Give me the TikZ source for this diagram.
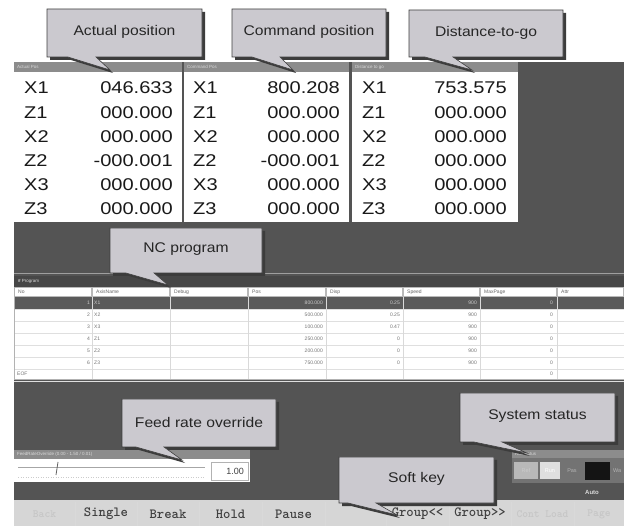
\documentclass[tikz,border=0pt]{standalone}
\usepackage{fontspec}
\setmainfont{Liberation Sans}
\newfontfamily\posf{Liberation Sans}[FakeStretch=1.18]
\newfontfamily\callf{Liberation Sans}[FakeStretch=1.12]
\definecolor{scr}{RGB}{84,84,84}
\definecolor{tbar}{RGB}{140,140,140}
\definecolor{callfill}{RGB}{203,201,207}
\definecolor{keybg}{RGB}{214,214,214}
\definecolor{hl}{RGB}{90,90,90}
\definecolor{shad}{RGB}{60,60,60}
\newcommand{\mycallout}[9]{%
  \begin{scope}[shift={(3,3)}]
    \fill[shad] (#2,#3) -- (#4,#3) -- (#4,#5) -- (#7,#5) -- (#8) -- (#6,#5) -- (#2,#5) -- cycle;
  \end{scope}
  \draw[callbox] (#2,#3) -- (#4,#3) -- (#4,#5) -- (#7,#5) -- (#8) -- (#6,#5) -- (#2,#5) -- cycle;
  \node[calltext] (#1) at ({(#2+#4)/2},{(#3+#5)/2-1}) {#9};
}
\tikzset{
  posl/.style={anchor=west, font=\posf\fontsize{17}{17}\selectfont, text=black!90, inner sep=0},
  posv/.style={anchor=east, font=\posf\fontsize{17}{17}\selectfont, text=black!90, inner sep=0},
  callbox/.style={fill=callfill, draw=black!75, line width=0.6pt},
  calltext/.style={font=\callf\fontsize{14}{14}\selectfont, text=black!85, inner sep=0},
  tinyw/.style={font=\fontsize{4.5}{5}\selectfont, text=white!85!black, inner sep=0, anchor=west},
  hdr/.style={font=\fontsize{5}{5}\selectfont, text=black!60, inner sep=0, anchor=west},
  cellr/.style={font=\fontsize{5}{5}\selectfont, inner sep=0, anchor=east},
  celll/.style={font=\fontsize{5}{5}\selectfont, inner sep=0, anchor=west},
  keytext/.style={font=\ttfamily\bfseries\fontsize{14}{14}\selectfont, inner sep=0},
  keyfade/.style={font=\ttfamily\bfseries\fontsize{11}{11}\selectfont, inner sep=0},
}
\begin{document}
\begin{tikzpicture}[x=1pt,y=-1pt]
\useasboundingbox (0,0) rectangle (624,526);
\fill[white] (0,0) rectangle (624,526);
% screen background
\fill[scr] (14,62) rectangle (624,500);
% position panels
\foreach \xa/\xb/\ttl in {14/182/Actual Pos, 184/349/Command Pos, 352/518/Distance to go}{
  \fill[tbar] (\xa,62) rectangle (\xb,72);
  \fill[white] (\xa,72) rectangle (\xb,222);
  \node[tinyw] at (\xa+3,67) {\ttl};
}
\foreach \l/\a/\c/\d [count=\i] in {X1/046.633/800.208/753.575, Z1/000.000/000.000/000.000, X2/000.000/000.000/000.000, Z2/-000.001/-000.001/000.000, X3/000.000/000.000/000.000, Z3/000.000/000.000/000.000}{
  \pgfmathsetmacro\yy{88+24.2*(\i-1)}
  \node[posl] (al\i) at (24,\yy) {\l};
  \node[posv] (av\i) at (173,\yy) {\a};
  \node[posl] (cl\i) at (193,\yy) {\l};
  \node[posv] (cv\i) at (340,\yy) {\c};
  \node[posl] (dl\i) at (362,\yy) {\l};
  \node[posv] (dv\i) at (507,\yy) {\d};
}
% program panel
\draw[gray!75, line width=0.8pt] (14,273) -- (624,273);
\fill[black!72] (14,276) rectangle (624,287);
\node[tinyw] (progt) at (18,281.5) {\textbf{\#} Program};
\fill[white] (14,287) rectangle (624,379);
\foreach \xa/\xb/\h in {14/92/No, 92/170/AxisName, 170/248/Debug, 248/326/Pos, 326/403/Disp, 403/480/Speed, 480/557/MaxPage, 557/624/Attr}{
  \draw[gray!55, line width=0.4pt] (\xa+0.5,287.5) rectangle (\xb-0.5,296.5);
  \node[hdr] at (\xa+4,292) {\h};
}
\fill[hl] (14,297) rectangle (624,309);
\foreach \k in {1,...,7}{
  \draw[gray!25, line width=0.4pt] (14,309+12*\k-12) -- (624,309+12*\k-12);
}
\foreach \xv in {92,170,248,326,403,480,557}{
  \draw[gray!30, line width=0.4pt] (\xv,297) -- (\xv,379);
}
\draw[gray!60, line width=0.6pt] (14,287) -- (14,379) -- (624,379);
\foreach \n/\nm/\p/\ds [count=\k] in {1/X1/800.000/0.25, 2/X2/500.000/0.25, 3/X3/100.000/0.47, 4/Z1/250.000/0, 5/Z2/200.000/0, 6/Z3/750.000/0}{
  \pgfmathsetmacro\yy{303+12*(\k-1)}
  \ifnum\k=1 \def\tc{black!20}\else\def\tc{black!55}\fi
  \node[cellr, text=\tc] (rn\k) at (90,\yy) {\n};
  \node[celll, text=\tc] (ra\k) at (94,\yy) {\nm};
  \node[cellr, text=\tc] (rp\k) at (323,\yy) {\p};
  \node[cellr, text=\tc] (rd\k) at (400,\yy) {\ds};
  \node[cellr, text=\tc] (rs\k) at (477,\yy) {900};
  \node[cellr, text=\tc] (rm\k) at (553,\yy) {0};
}
\node[celll, text=black!55] (eof) at (17,374) {EOF};
\node[cellr, text=black!55] (rm7) at (553,374) {0};
% feed rate override panel
\fill[tbar] (14,450) rectangle (250,459);
\node[tinyw] (feedt) at (17,454.5) {FeedRateOverride (0.00 - 1.50 / 0.01)};
\fill[white] (14,459) rectangle (250,482);
\draw[gray!70, line width=0.6pt] (18,467) -- (205,467);
\draw[gray!40, line width=0.5pt, dotted] (18,477) -- (205,477);
\draw[black!60, line width=0.8pt] (58,462) -- (56,475);
\draw[gray!60, line width=0.5pt, fill=white] (211,462) rectangle (248,480);
\node[font=\fontsize{9}{9}\selectfont, text=black!75, anchor=east, inner sep=0] (feedv) at (244,471) {1.00};
% system status
\fill[tbar] (512,450) rectangle (624,458);
\node[tinyw] (statt) at (515,454) {RunStatus};
\fill[black!55] (512,458) rectangle (624,483);
\fill[gray!55] (514,462) rectangle (538,479);
\node[font=\fontsize{5.5}{6}\selectfont, text=white!80!black, inner sep=0] (sref) at (526,470.5) {Ref};
\fill[gray!25] (540,462) rectangle (560,479);
\node[font=\fontsize{5.5}{6}\selectfont, text=white, inner sep=0] (srun) at (550,470.5) {Run};
\node[font=\fontsize{5.5}{6}\selectfont, text=gray!60, inner sep=0] (spas) at (572,470.5) {Pas};
\fill[black!92] (585,462) rectangle (610,480);
\node[font=\fontsize{5.5}{6}\selectfont, text=gray!60, inner sep=0, anchor=west] (swa) at (613,470.5) {Wa};
\node[font=\bfseries\fontsize{6}{6}\selectfont, text=white!85!black, inner sep=0] (sauto) at (592,492) {Auto};
% soft keys
\fill[keybg] (14,500) rectangle (624,526);
\foreach \xv in {75,137,199,262,325,386,449,511,574}{
  \draw[white!70!gray, line width=0.8pt] (\xv,502) -- (\xv,526);
}
\foreach \t/\xa/\xb/\tc [count=\j] in {Single/75/137/black!75, Break/137/199/black!75, Hold/199/262/black!75, Pause/262/325/black!75, {}/325/386/black!75, Group<{}</386/449/black!75, Group>{}>/449/511/black!75}{
  \node[keytext, text=\tc] (key\j) at ({(\xa+\xb)/2},514) {\t};
}
\node[keyfade, text=gray!45] (kback) at (44.5,514) {Back};
\node[keyfade, text=gray!45] (kcont) at (542.5,514) {Cont Load};
\node[keyfade, text=gray!45] (kpage) at (599,514) {Page};
% callouts
\mycallout{c1}{47}{9}{202}{57}{68}{96}{110,70}{Actual position}
\mycallout{c2}{232}{9}{386}{57}{252}{280}{293,70}{Command position}
\mycallout{c3}{409}{10}{563}{57}{425}{453}{472,70}{Distance-to-go}
\mycallout{c4}{110}{228}{262}{273}{126}{154}{168,285}{NC program}
\mycallout{c5}{122}{399}{276}{447}{136}{164}{182,460}{Feed rate override}
\mycallout{c6}{460}{393}{615}{442}{474}{502}{527,453}{System status}
\mycallout{c7}{339}{457}{494}{503}{348}{376}{397,515}{Soft key}
\end{tikzpicture}
\end{document}
